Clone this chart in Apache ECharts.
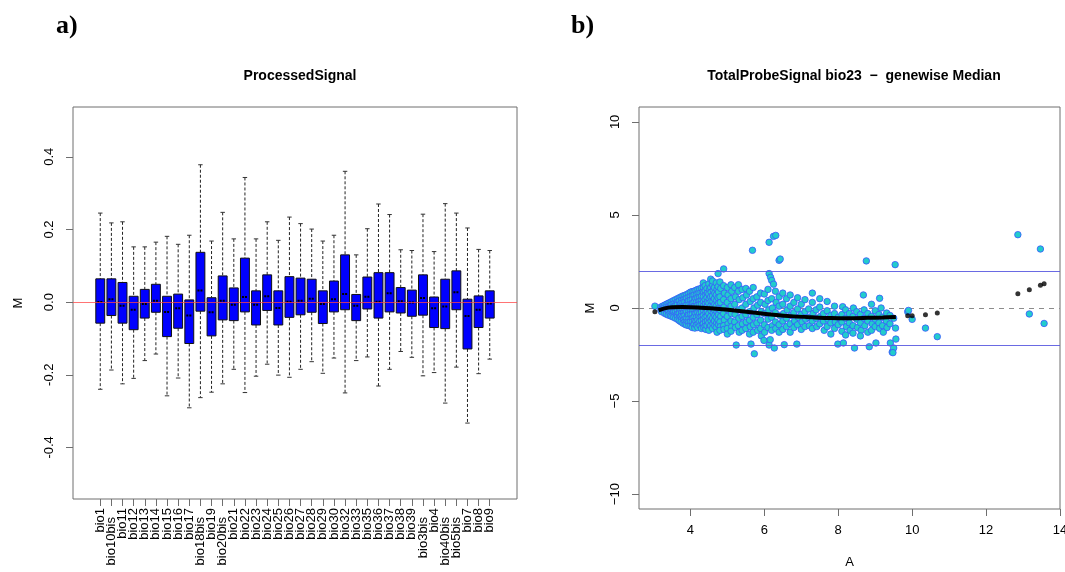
<!DOCTYPE html>
<html>
<head>
<meta charset="utf-8">
<title>ProcessedSignal / MA plot</title>
<script src="https://cdn.jsdelivr.net/npm/echarts@6/dist/echarts.min.js"></script>
<style>
  html, body { margin: 0; padding: 0; background: #fff; }
  #chart { width: 1065px; height: 572px; }
</style>
</head>
<body>
<div id="chart"></div>
<script>
// panel a) boxplot summaries per sample
const samples = ['bio1', 'bio10bis', 'bio11', 'bio12', 'bio13', 'bio14', 'bio15', 'bio16', 'bio17', 'bio18bis',
  'bio19', 'bio20bis', 'bio21', 'bio22', 'bio23', 'bio24', 'bio25', 'bio26', 'bio27', 'bio28', 'bio29', 'bio30',
  'bio32', 'bio33', 'bio35', 'bio36', 'bio37', 'bio38', 'bio39', 'bio3bis', 'bio4', 'bio40bis', 'bio5bis', 'bio7',
  'bio8', 'bio9']
const whiskerHigh = [0.245, 0.218, 0.221, 0.152, 0.152, 0.165, 0.181, 0.159, 0.184, 0.378, 0.168, 0.247, 0.174,
  0.343, 0.174, 0.221, 0.170, 0.234, 0.216, 0.201, 0.168, 0.184, 0.360, 0.130, 0.202, 0.270, 0.241, 0.144, 0.142,
  0.242, 0.139, 0.271, 0.245, 0.204, 0.145, 0.142]
const q3 = [0.064, 0.064, 0.054, 0.016, 0.035, 0.049, 0.016, 0.022, 0.006, 0.137, 0.012, 0.072, 0.039, 0.121,
  0.031, 0.075, 0.031, 0.070, 0.066, 0.063, 0.031, 0.058, 0.130, 0.021, 0.069, 0.081, 0.081, 0.040, 0.033, 0.075,
  0.014, 0.063, 0.086, 0.008, 0.017, 0.031]
const medians = [0.000, 0.008, -0.010, -0.021, -0.005, 0.004, -0.027, -0.017, -0.037, 0.032, -0.028, 0.004,
  -0.007, 0.014, -0.007, 0.016, -0.016, 0.001, 0.004, 0.009, -0.005, 0.008, 0.022, -0.010, 0.015, 0.001, 0.024,
  0.002, -0.001, 0.011, -0.017, -0.012, 0.027, -0.038, -0.021, -0.004]
const q1 = [-0.058, -0.037, -0.058, -0.076, -0.044, -0.028, -0.095, -0.072, -0.114, -0.025, -0.093, -0.049,
  -0.051, -0.027, -0.063, -0.023, -0.063, -0.042, -0.035, -0.028, -0.059, -0.027, -0.021, -0.051, -0.019, -0.044,
  -0.027, -0.030, -0.039, -0.036, -0.070, -0.073, -0.021, -0.129, -0.070, -0.044]
const whiskerLow = [-0.240, -0.187, -0.225, -0.210, -0.161, -0.143, -0.258, -0.209, -0.291, -0.263, -0.248,
  -0.225, -0.185, -0.249, -0.204, -0.171, -0.201, -0.207, -0.185, -0.164, -0.196, -0.154, -0.250, -0.161, -0.151,
  -0.231, -0.185, -0.136, -0.152, -0.203, -0.194, -0.278, -0.179, -0.333, -0.197, -0.157]
const mTicksA = [-0.4, -0.2, 0, 0.2, 0.4]

// panel b) MA plot, [A, M]
const maPoints = [
  [3.04, 0.1], [3.2, 0.05], [3.2, -0.1], [3.22, -0.2], [3.25, 0.1], [3.26, -0.05], [3.27, 0.02],
  [3.3, 0.15], [3.3, 0], [3.32, -0.15], [3.3, -0.28],
  [3.35, 0.2], [3.36, 0.07], [3.35, -0.08], [3.36, -0.22], [3.35, -0.33],
  [3.4, 0.25], [3.42, 0.1], [3.4, -0.05], [3.41, -0.2], [3.4, -0.38],
  [3.45, 0.3], [3.46, 0.15], [3.45, 0.0], [3.46, -0.15], [3.45, -0.3], [3.46, -0.42],
  [3.5, 0.35], [3.5, 0.18], [3.52, 0.02], [3.5, -0.12], [3.51, -0.28], [3.5, -0.45],
  [3.55, 0.4], [3.56, 0.25], [3.55, 0.08], [3.56, -0.08], [3.55, -0.22], [3.56, -0.38], [3.55, -0.5],
  [3.6, 0.45], [3.62, 0.28], [3.6, 0.12], [3.61, -0.05], [3.6, -0.2], [3.62, -0.38], [3.6, -0.55],
  [3.65, 0.5], [3.66, 0.33], [3.65, 0.18], [3.66, 0.0], [3.65, -0.15], [3.66, -0.32], [3.65, -0.48], [3.66, -0.62],
  [3.7, 0.55], [3.7, 0.38], [3.72, 0.2], [3.7, 0.05], [3.71, -0.12], [3.7, -0.3], [3.72, -0.48], [3.7, -0.68],
  [3.75, 0.6], [3.76, 0.42], [3.75, 0.25], [3.76, 0.08], [3.75, -0.1], [3.76, -0.28], [3.75, -0.45], [3.76, -0.6],
  [3.75, -0.75],
  [3.8, 0.65], [3.81, 0.45], [3.8, 0.28], [3.82, 0.1], [3.8, -0.08], [3.81, -0.25], [3.8, -0.45], [3.82, -0.62],
  [3.8, -0.82],
  [3.85, 0.68], [3.86, 0.5], [3.85, 0.32], [3.86, 0.12], [3.85, -0.05], [3.86, -0.22], [3.85, -0.4], [3.86, -0.58],
  [3.85, -0.75], [3.86, -0.88],
  [3.9, 0.72], [3.9, 0.52], [3.92, 0.35], [3.9, 0.15], [3.91, -0.02], [3.9, -0.2], [3.92, -0.4], [3.9, -0.58],
  [3.91, -0.75], [3.9, -0.92],
  [3.95, 0.78], [3.96, 0.58], [3.95, 0.38], [3.96, 0.18], [3.95, 0.0], [3.96, -0.18], [3.95, -0.38], [3.96, -0.58],
  [3.95, -0.78], [3.96, -0.95],
  [4.0, 0.85], [4.01, 0.62], [4.0, 0.42], [4.02, 0.22], [4.0, 0.05], [4.01, -0.15], [4.0, -0.35], [4.02, -0.55],
  [4.0, -0.75], [4.01, -0.95],
  [4.05, 0.88], [4.06, 0.66], [4.05, 0.45], [4.06, 0.25], [4.05, 0.05], [4.06, -0.15], [4.05, -0.35], [4.06, -0.55],
  [4.05, -0.75], [4.06, -0.95], [4.05, -1.05],
  [4.1, 0.9], [4.1, 0.7], [4.12, 0.48], [4.1, 0.3], [4.11, 0.1], [4.1, -0.1], [4.12, -0.3], [4.1, -0.5],
  [4.11, -0.7], [4.1, -0.9], [4.12, -1.08],
  [4.15, 0.95], [4.16, 0.72], [4.15, 0.5], [4.16, 0.3], [4.15, 0.1], [4.16, -0.1], [4.15, -0.3], [4.16, -0.5],
  [4.15, -0.72], [4.16, -0.92],
  [4.2, 1.0], [4.21, 0.78], [4.2, 0.55], [4.22, 0.35], [4.2, 0.15], [4.21, -0.05], [4.2, -0.25], [4.22, -0.45],
  [4.2, -0.65], [4.21, -0.85], [4.2, -1.05],
  [4.25, 1.02], [4.26, 0.8], [4.25, 0.58], [4.26, 0.38], [4.25, 0.18], [4.26, -0.05], [4.25, -0.28], [4.26, -0.5],
  [4.25, -0.72], [4.26, -0.95],
  [4.3, 1.08], [4.32, 0.85], [4.3, 0.62], [4.31, 0.4], [4.3, 0.2], [4.32, -0.02], [4.3, -0.22], [4.31, -0.45],
  [4.3, -0.68], [4.32, -0.9], [4.3, -1.1], [4.35, 1.35],
  [4.35, 1.1], [4.36, 0.85], [4.35, 0.6], [4.36, 0.35], [4.35, 0.1], [4.36, -0.15], [4.35, -0.4], [4.36, -0.62],
  [4.35, -0.85], [4.36, -1.05],
  [4.4, 1.2], [4.4, 0.92], [4.42, 0.7], [4.4, 0.45], [4.41, 0.22], [4.4, 0], [4.42, -0.25], [4.4, -0.5],
  [4.41, -0.75], [4.4, -0.98], [4.42, -1.15],
  [4.45, 1.05], [4.46, 0.8], [4.45, 0.55], [4.46, 0.3], [4.45, 0.05], [4.46, -0.2], [4.45, -0.45], [4.46, -0.7],
  [4.45, -0.95],
  [4.5, 1.3], [4.52, 1.0], [4.5, 0.75], [4.51, 0.5], [4.5, 0.25], [4.52, -0.05], [4.5, -0.3], [4.51, -0.55],
  [4.5, -0.8], [4.52, -1.05], [4.5, -1.2], [4.55, 1.55],
  [4.55, 1.1], [4.56, 0.85], [4.55, 0.6], [4.56, 0.35], [4.55, 0.1], [4.56, -0.15], [4.55, -0.45], [4.56, -0.7],
  [4.55, -0.95],
  [4.6, 1.25], [4.62, 0.95], [4.6, 0.65], [4.61, 0.35], [4.6, 0.05], [4.62, -0.25], [4.6, -0.55], [4.61, -0.85],
  [4.6, -1.1], [4.6, 1.45],
  [4.65, 1.1], [4.66, 0.8], [4.65, 0.5], [4.66, 0.2], [4.65, -0.1], [4.66, -0.4], [4.65, -0.7], [4.66, -0.95],
  [4.7, 1.35], [4.72, 1.0], [4.7, 0.7], [4.71, 0.4], [4.7, 0.1], [4.72, -0.2], [4.7, -0.5], [4.71, -0.8],
  [4.7, -1.05], [4.72, -1.3], [4.75, 1.85],
  [4.75, 1.15], [4.76, 0.85], [4.75, 0.55], [4.76, 0.25], [4.75, -0.05], [4.76, -0.35], [4.75, -0.65], [4.76, -0.9],
  [4.8, 1.4], [4.82, 1.05], [4.8, 0.6], [4.81, 0.3], [4.8, -0.1], [4.82, -0.45], [4.8, -0.75], [4.81, -1.0],
  [4.8, -1.2],
  [4.9, 2.1], [4.9, 1.2], [4.92, 0.8], [4.9, 0.45], [4.91, 0.05], [4.9, -0.3], [4.92, -0.65], [4.9, -0.95],
  [4.91, -1.15],
  [5.0, 1.1], [5.02, 0.7], [5.0, 0.3], [5.01, -0.1], [5.0, -0.45], [5.02, -0.85], [5.0, -1.1], [5.0, -1.4],
  [5.1, 1.25], [5.12, 0.9], [5.1, 0.5], [5.1, 0.1], [5.11, -0.3], [5.1, -0.7], [5.12, -1.0], [5.1, -1.25],
  [5.2, 1.1], [5.22, 0.6], [5.2, 0.2], [5.21, -0.35], [5.2, -0.75], [5.22, -1.05], [5.24, -1.99],
  [5.3, 1.25], [5.3, 0.9], [5.32, 0.45], [5.3, -0.1], [5.31, -0.55], [5.3, -0.95], [5.32, -1.3],
  [5.4, 1.0], [5.42, 0.55], [5.4, 0.0], [5.4, -0.45], [5.41, -0.85], [5.4, -1.2],
  [5.5, 1.05], [5.52, 0.7], [5.5, 0.2], [5.5, -0.35], [5.51, -0.75], [5.5, -1.1],
  [5.6, 0.9], [5.62, 0.35], [5.6, -0.2], [5.6, -0.65], [5.62, -1.0], [5.6, -1.4], [5.64, -1.94],
  [5.68, 3.1], [5.73, -2.46],
  [5.7, 1.1], [5.7, 0.5], [5.72, 0.0], [5.7, -0.5], [5.71, -0.9], [5.7, -1.3],
  [5.8, 0.6], [5.82, 0.15], [5.8, -0.35], [5.8, -0.8], [5.82, -1.2],
  [5.9, 0.8], [5.9, 0.3], [5.92, -0.2], [5.9, -0.65], [5.9, -1.1], [5.92, -1.5], [5.99, -1.74],
  [6.0, 0.75], [6.02, 0.2], [6.0, -0.3], [6.0, -0.9], [6.01, -1.3],
  [6.1, 1.0], [6.1, 0.4], [6.12, -0.1], [6.1, -0.6], [6.1, -1.05],
  [6.13, 1.85], [6.17, 1.65], [6.2, 1.48], [6.25, 1.28], [6.13, 3.53], [6.25, 3.85], [6.31, 3.9],
  [6.13, -1.99], [6.16, -1.7], [6.27, -2.15],
  [6.2, 0.5], [6.22, 0.0], [6.2, -0.5], [6.22, -0.95], [6.2, -1.2],
  [6.3, 0.9], [6.32, 0.3], [6.3, -0.25], [6.3, -0.75], [6.31, -1.1],
  [6.4, 2.56], [6.43, 2.63],
  [6.4, 0.6], [6.4, 0.1], [6.42, -0.4], [6.4, -0.9], [6.4, -1.3],
  [6.5, 0.8], [6.5, 0.2], [6.52, -0.3], [6.5, -0.7], [6.5, -1.15], [6.54, -1.97],
  [6.6, 0.5], [6.62, -0.1], [6.6, -0.55], [6.6, -1.0],
  [6.7, 0.7], [6.7, 0.1], [6.72, -0.4], [6.7, -0.85], [6.7, -1.3],
  [6.8, 0.3], [6.8, -0.25], [6.82, -0.7], [6.8, -1.05],
  [6.9, 0.55], [6.9, -0.05], [6.92, -0.5], [6.9, -0.9], [6.88, -1.94],
  [7.0, 0.2], [7.0, -0.35], [7.02, -0.75], [7.0, -1.15],
  [7.1, 0.45], [7.1, -0.2], [7.12, -0.6], [7.1, -1.0],
  [7.2, -0.05], [7.2, -0.5], [7.22, -0.95],
  [7.3, 0.8], [7.3, 0.3], [7.32, -0.3], [7.3, -0.7], [7.3, -1.1],
  [7.4, -0.1], [7.4, -0.55], [7.42, -1.0],
  [7.5, 0.5], [7.5, 0.05], [7.52, -0.45], [7.5, -0.85],
  [7.6, -0.3], [7.6, -0.7], [7.62, -1.2],
  [7.7, 0.35], [7.7, -0.15], [7.72, -0.6], [7.7, -1.0],
  [7.8, -0.4], [7.8, -0.8], [7.8, -1.4],
  [7.9, 0.1], [7.9, -0.3], [7.92, -0.75], [7.9, -1.1],
  [8.0, -0.5], [8.0, -0.9], [7.99, -1.94],
  [8.12, 0.07], [8.1, -0.35], [8.1, -0.75], [8.14, -1.88], [8.1, -1.25],
  [8.2, -0.1], [8.2, -0.55], [8.22, -1.0], [8.2, -1.45],
  [8.3, -0.3], [8.3, -0.8], [8.32, -1.2],
  [8.41, 0.0], [8.4, -0.45], [8.4, -0.95], [8.44, -2.15], [8.4, -1.35],
  [8.5, -0.2], [8.5, -0.6], [8.52, -1.05],
  [8.6, -0.35], [8.6, -0.8], [8.62, -1.2], [8.6, -1.5],
  [8.68, 0.7], [8.7, -0.1], [8.7, -0.55], [8.72, -0.95],
  [8.76, 2.53], [8.8, -0.3], [8.8, -0.7], [8.84, -2.08], [8.8, -1.3],
  [8.9, 0.2], [8.9, -0.45], [8.92, -0.85], [8.9, -1.2],
  [9.0, -0.15], [9.0, -0.6], [9.02, -1.88], [9.0, -1.0],
  [9.12, 0.52], [9.1, -0.35], [9.1, -0.8], [9.12, -1.1],
  [9.16, 0.0], [9.2, -0.5], [9.2, -0.95], [9.22, -1.3],
  [9.31, -0.27], [9.3, -0.7], [9.32, -1.05],
  [9.41, -1.88], [9.4, -0.4], [9.4, -0.85],
  [9.46, -2.37], [9.5, -2.15], [9.48, -2.4], [9.54, 2.33], [9.55, -1.08], [9.56, -1.67], [9.5, -0.55],
  [9.88, -0.2], [9.9, -0.13], [10.0, -0.61], [10.36, -1.08], [10.68, -1.54],
  [12.86, 3.94], [13.47, 3.17], [13.17, -0.32], [13.57, -0.83]
]
const loessCurve = [[3.14, -0.13], [3.3, -0.02], [3.5, 0.04], [3.8, 0.05], [4.2, 0.03], [4.7, -0.04],
  [5.2, -0.13], [5.7, -0.24], [6.25, -0.36], [6.8, -0.45], [7.3, -0.5], [7.8, -0.54], [8.3, -0.55],
  [8.8, -0.53], [9.2, -0.51], [9.56, -0.48]]
const loessPoints = [[3.04, -0.2], [9.88, -0.41], [10.0, -0.41], [10.36, -0.36], [10.68, -0.27],
  [12.86, 0.77], [13.17, 0.98], [13.47, 1.22], [13.57, 1.3]]
const aTicks = [4, 6, 8, 10, 12, 14]
const mTicksB = [-10, -5, 0, 5, 10]
const cutoffs = [-2, 2]

const font = 'Liberation Sans, Arial, Helvetica, sans-serif'
const frame = '#6e6e6e'

const boxData = samples.map((s, i) => [i, whiskerLow[i], q1[i], medians[i], q3[i], whiskerHigh[i]])
const sampleIdx = samples.map((s, i) => i)
// empty outer slots so the first/last sample label is never dropped as "overlapping"
const sampleLabelIdx = [-2].concat(sampleIdx, [samples.length + 1])

function renderBox(params, api) {
  const i = api.value(0)
  const w = api.size([1, 0])[0] * 0.8
  const lo = api.coord([i, api.value(1)])
  const b1 = api.coord([i, api.value(2)])
  const md = api.coord([i, api.value(3)])
  const b3 = api.coord([i, api.value(4)])
  const hi = api.coord([i, api.value(5)])
  const x = lo[0]
  const dash = { stroke: '#222', lineWidth: 1, lineDash: [3, 2] }
  const cap = { stroke: '#333', lineWidth: 1 }
  return {
    type: 'group',
    children: [
      { type: 'line', shape: { x1: x, y1: hi[1], x2: x, y2: b3[1] }, style: dash },
      { type: 'line', shape: { x1: x, y1: b1[1], x2: x, y2: lo[1] }, style: dash },
      { type: 'line', shape: { x1: x - w / 4, y1: hi[1], x2: x + w / 4, y2: hi[1] }, style: cap },
      { type: 'line', shape: { x1: x - w / 4, y1: lo[1], x2: x + w / 4, y2: lo[1] }, style: cap },
      {
        type: 'rect',
        shape: { x: x - w / 2, y: b3[1], width: w, height: b1[1] - b3[1] },
        style: { fill: '#0000ff', stroke: '#111', lineWidth: 1 },
      },
      {
        type: 'line',
        shape: { x1: x - w / 2 + 1.5, y1: md[1], x2: x + w / 2 - 1.5, y2: md[1] },
        style: { stroke: '#000', lineWidth: 2, lineDash: [2, 1] },
      },
    ],
  }
}

const chart = echarts.init(document.getElementById('chart'), null, { renderer: 'canvas' })

const tickLine = { show: true, length: 7, inside: false, lineStyle: { color: frame } }

chart.setOption({
  animation: false,
  backgroundColor: '#fff',
  textStyle: { fontFamily: font },
  title: [
    { text: 'a)', left: 51, top: 8, textStyle: { fontFamily: 'Liberation Serif, Times New Roman, serif', fontSize: 26, fontWeight: 'bold', color: '#000' } },
    { text: 'b)', left: 566, top: 8, textStyle: { fontFamily: 'Liberation Serif, Times New Roman, serif', fontSize: 26, fontWeight: 'bold', color: '#000' } },
    { text: 'ProcessedSignal', left: 295, top: 64, textAlign: 'center', textStyle: { fontFamily: font, fontSize: 14, fontWeight: 'bold', color: '#000' } },
    { text: 'TotalProbeSignal bio23  \u2212  genewise Median', left: 849, top: 64, textAlign: 'center', textStyle: { fontFamily: font, fontSize: 14, fontWeight: 'bold', color: '#000' } },
  ],
  grid: [
    { left: 73, top: 107, width: 444, height: 392, show: true, borderColor: frame, borderWidth: 1, containLabel: false, outerBoundsMode: 'none' },
    { left: 639, top: 107, width: 421, height: 402, show: true, borderColor: frame, borderWidth: 1, containLabel: false, outerBoundsMode: 'none' },
  ],
  xAxis: [
    {
      gridIndex: 0,
      type: 'value',
      min: -2.45,
      max: 37.45,
      name: 'Samples',
      nameLocation: 'middle',
      nameGap: 56,
      nameTextStyle: { fontFamily: font, fontSize: 13, color: '#000' },
      splitLine: { show: false },
      axisLine: { show: false, onZero: false },
      axisTick: Object.assign({ customValues: sampleIdx }, tickLine),
      axisLabel: {
        customValues: sampleLabelIdx,
        hideOverlap: false,
        rotate: 90,
        margin: 9,
        interval: 0,
        fontFamily: font,
        fontSize: 13,
        color: '#000',
        formatter: (v) => {
          const name = samples[Math.round(v)]
          if (!name) return ''
          return /bis$/.test(name) ? '{b|' + name + '}' : name
        },
        rich: { b: { fontFamily: font, fontSize: 13, color: '#000', padding: [0, 9, 0, 0] } },
      },
    },
    {
      gridIndex: 1,
      type: 'value',
      min: 2.61,
      max: 14,
      name: 'A',
      nameLocation: 'middle',
      nameGap: 47,
      nameTextStyle: { fontFamily: font, fontSize: 13, color: '#000' },
      splitLine: { show: false },
      axisLine: { show: false, onZero: false },
      axisTick: Object.assign({ customValues: aTicks }, tickLine),
      axisLabel: { customValues: aTicks, showMinLabel: true, showMaxLabel: true, margin: 15, fontFamily: font, fontSize: 13, color: '#000' },
    },
  ],
  yAxis: [
    {
      gridIndex: 0,
      type: 'value',
      min: -0.542,
      max: 0.537,
      name: 'M',
      nameLocation: 'middle',
      nameGap: 48,
      nameTextStyle: { fontFamily: font, fontSize: 13, color: '#000' },
      splitLine: { show: false },
      axisLine: { show: false, onZero: false },
      axisTick: Object.assign({ customValues: mTicksA }, tickLine),
      axisLabel: { customValues: mTicksA, rotate: 90, margin: 17, fontFamily: font, fontSize: 13, color: '#000', formatter: (v) => v.toFixed(1) },
    },
    {
      gridIndex: 1,
      type: 'value',
      min: -10.8,
      max: 10.8,
      name: 'M',
      nameLocation: 'middle',
      nameGap: 42,
      nameTextStyle: { fontFamily: font, fontSize: 13, color: '#000' },
      splitLine: { show: false },
      axisLine: { show: false, onZero: false },
      axisTick: Object.assign({ customValues: mTicksB }, tickLine),
      axisLabel: { customValues: mTicksB, rotate: 90, margin: 17, fontFamily: font, fontSize: 13, color: '#000', formatter: (v) => String(v).replace('-', '\u2212') },
    },
  ],
  series: [
    {
      name: 'ProcessedSignal',
      type: 'custom',
      xAxisIndex: 0,
      yAxisIndex: 0,
      renderItem: renderBox,
      encode: { x: 0, y: [1, 2, 3, 4, 5] },
      data: boxData,
      z: 2,
      markLine: {
        silent: true,
        symbol: 'none',
        label: { show: false },
        lineStyle: { color: 'rgba(255, 70, 70, 0.75)', type: 'solid', width: 1 },
        data: [{ yAxis: 0 }],
        z: 5,
      },
    },
    {
      name: 'MA',
      type: 'scatter',
      xAxisIndex: 1,
      yAxisIndex: 1,
      symbolSize: 6.5,
      itemStyle: { color: '#22cccc', borderColor: '#3a55ff', borderWidth: 0.8, opacity: 1 },
      data: maPoints,
      markLine: {
        silent: true,
        symbol: 'none',
        label: { show: false },
        lineStyle: { color: '#5a5ae0', type: 'solid', width: 1, opacity: 0.9 },
        data: cutoffs.map((c) => ({ yAxis: c })),
      },
    },
    {
      name: 'loess',
      type: 'line',
      xAxisIndex: 1,
      yAxisIndex: 1,
      showSymbol: false,
      symbol: 'none',
      smooth: 0.3,
      lineStyle: { color: '#000', width: 4 },
      data: loessCurve,
      z: 4,
      markLine: {
        silent: true,
        symbol: 'none',
        label: { show: false },
        lineStyle: { color: '#8c8c8c', type: [5, 5], width: 1 },
        data: [{ yAxis: 0 }],
        z: 1,
      },
    },
    {
      name: 'loess points',
      type: 'scatter',
      xAxisIndex: 1,
      yAxisIndex: 1,
      symbolSize: 5,
      itemStyle: { color: '#000' },
      data: loessPoints,
      z: 4,
    },
  ],
})
</script>
</body>
</html>
